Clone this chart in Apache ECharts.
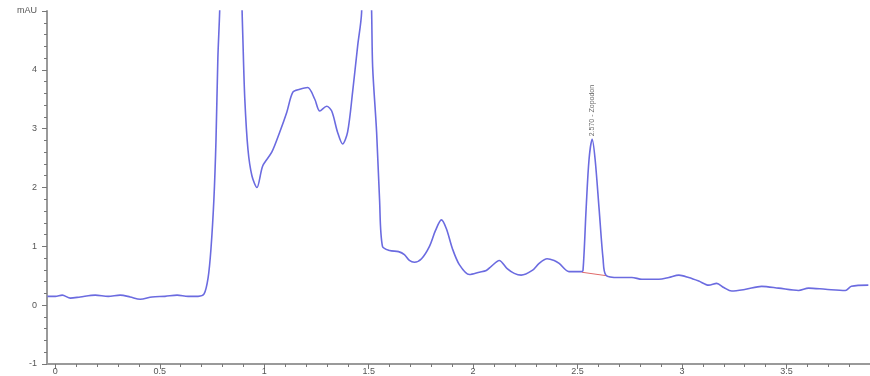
<!DOCTYPE html>
<html><head><meta charset="utf-8">
<script src="https://cdn.jsdelivr.net/npm/echarts@6/dist/echarts.min.js"></script>
<style>html,body{margin:0;padding:0;background:#fff}#c{width:870px;height:376px}</style>
</head><body><div id="c"></div>
<script>
// retention time (min)
const times = [-0.038,0,0.033,0.072,0.119,0.191,0.253,0.31,0.358,0.406,0.463,0.525,0.583,0.635,0.683,0.712,0.731,0.745,0.759,0.769,0.778,0.788,0.84,0.893,0.898,0.907,0.922,0.941,0.965,0.993,1.036,1.074,1.108,1.137,1.17,1.208,1.242,1.266,1.299,1.323,1.351,1.375,1.399,1.423,1.447,1.466,1.49,1.514,1.519,1.538,1.552,1.566,1.6,1.643,1.671,1.695,1.719,1.753,1.791,1.82,1.848,1.872,1.901,1.934,1.982,2.03,2.063,2.087,2.125,2.163,2.197,2.23,2.283,2.316,2.354,2.388,2.412,2.459,2.517,2.526,2.541,2.555,2.57,2.584,2.603,2.622,2.636,2.698,2.76,2.808,2.889,2.937,2.985,3.032,3.08,3.128,3.166,3.2,3.238,3.305,3.381,3.462,3.558,3.606,3.687,3.782,3.811,3.892];
// absorbance (mAU)
const signal = [0.15,0.15,0.17,0.12,0.14,0.17,0.15,0.17,0.14,0.10,0.14,0.15,0.17,0.15,0.15,0.19,0.46,0.96,1.8,2.8,4.2,5.2,25,5.2,4.5,3.5,2.65,2.2,2.0,2.37,2.6,2.94,3.28,3.62,3.67,3.7,3.5,3.3,3.38,3.3,2.94,2.74,2.94,3.62,4.4,4.97,8,5.0,4.05,2.94,1.8,1.0,0.93,0.91,0.86,0.76,0.73,0.79,1.0,1.27,1.45,1.3,0.96,0.69,0.52,0.56,0.59,0.66,0.76,0.62,0.54,0.51,0.59,0.71,0.79,0.76,0.71,0.57,0.57,0.59,1.64,2.48,2.82,2.48,1.64,0.79,0.51,0.47,0.47,0.44,0.44,0.47,0.51,0.47,0.41,0.34,0.37,0.30,0.24,0.27,0.32,0.29,0.25,0.29,0.27,0.25,0.32,0.34];
// integration baseline under the peak
const baseT = [2.52, 2.64];
const baseV = [0.56, 0.50];
// peak annotation
const peakT = 2.57, peakV = 2.82, peakName = '2.570 - Zopodon';
const xLabels = [0,0.5,1,1.5,2,2.5,3,3.5];
const xMinor = [0,0.1,0.2,0.3,0.4,0.5,0.6,0.7,0.8,0.9,1,1.1,1.2,1.3,1.4,1.5,1.6,1.7,1.8,1.9,2,2.1,2.2,2.3,2.4,2.5,2.6,2.7,2.8,2.9,3,3.1,3.2,3.3,3.4,3.5,3.6,3.7,3.8];

const chart = echarts.init(document.getElementById('c'));
const lab = {fontFamily:'Liberation Sans, Arial, sans-serif', fontSize:9, color:'#555'};
const axLine = {show:true, onZero:false, lineStyle:{color:'#9a9a9a', width:2}};
chart.setOption({
  animation:false,
  grid:{left:47,right:0,top:11,bottom:10,containLabel:false},
  xAxis:[{
    type:'value', min:-0.04, max:3.9,
    axisLine:axLine, splitLine:{show:false},
    axisTick:{show:true, customValues:xLabels, length:5, lineStyle:{color:'#777'}},
    axisLabel:Object.assign({show:true, customValues:xLabels, margin:3, formatter:v=>String(v)}, lab)
  },{
    type:'value', min:-0.04, max:3.9, position:'bottom',
    axisLine:{show:false, onZero:false}, splitLine:{show:false}, axisLabel:{show:false},
    axisTick:{show:true, customValues:xMinor, length:3, lineStyle:{color:'#777'}}
  }],
  yAxis:{
    type:'value', min:-1, max:5, interval:1,
    axisLine:axLine, splitLine:{show:false},
    axisTick:{show:true, length:5, lineStyle:{color:'#777'}},
    minorTick:{show:true, splitNumber:5, length:3, lineStyle:{color:'#777'}},
    axisLabel:Object.assign({margin:10, formatter:v=>v===5?'mAU':String(v)}, lab)
  },
  series:[{
    type:'line', z:2,
    data:baseT.map((t,i)=>[t,baseV[i]]),
    symbol:'none', lineStyle:{color:'#e06a6a', width:1}
  },{
    type:'line', z:3,
    data:times.map((t,i)=>[t,signal[i]]),
    symbol:'none', smooth:0.3, clip:true,
    lineStyle:{color:'#6b6be0', width:1.6}
  },{
    type:'scatter', z:4,
    data:[[peakT,peakV]], symbolSize:0,
    label:{show:true, formatter:peakName, rotate:90, position:[0,-3], align:'left', verticalAlign:'middle',
      fontFamily:'Liberation Sans, Arial, sans-serif', fontSize:7, color:'#444'}
  }]
});
</script></body></html>
